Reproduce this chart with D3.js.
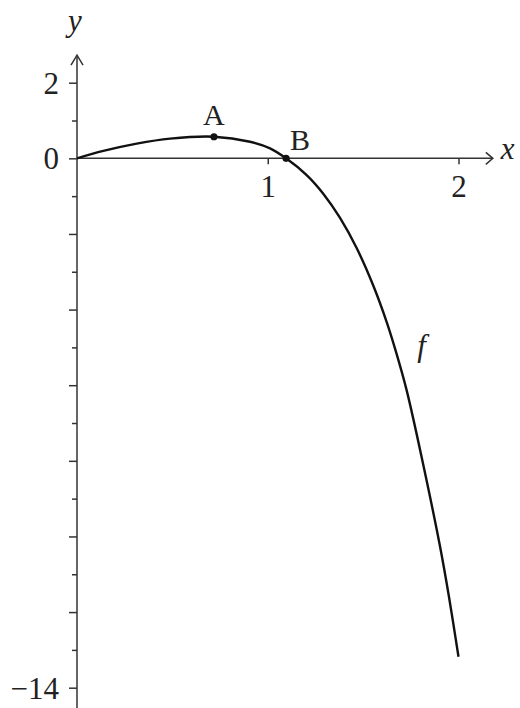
<!DOCTYPE html>
<html>
<head>
<meta charset="utf-8">
<script src="https://cdn.jsdelivr.net/npm/d3@7"></script>
<style>
  html, body { margin: 0; padding: 0; background: #fff; }
  svg { display: block; }
  text { font-family: "Liberation Serif", "Times New Roman", serif; fill: #222; }
</style>
</head>
<body>
<svg id="chart" width="520" height="708"></svg>
<script>
// ---- data ----
const curveX = [0, 0.138, 0.313, 0.488, 0.718, 0.907, 1.012, 1.096, 1.204, 1.291, 1.379, 1.466, 1.553, 1.624, 1.672, 1.728, 1.815, 1.903, 1.950, 2.0];
const curveY = [0, 0.196, 0.389, 0.521, 0.571, 0.439, 0.264, 0, -0.444, -0.936, -1.576, -2.372, -3.363, -4.337, -5.112, -6.131, -8.098, -10.261, -11.594, -13.18];
const pointNames = ["A", "B"];
const pointX = [0.718, 1.096];
const pointY = [0.571, 0];
const xTickValues = [1, 2];
const yMajorTicks = [2, 0, -2, -4, -6, -8, -10, -12, -14];
const yMinorTicks = [1, -1, -3, -5, -7, -9, -11, -13];
const yLabelled = [2, 0, -14];
const xDomain = [0, 2];
const yDomain = [-14, 2];
const axisExtentX = [0, 2.18];
const axisExtentY = [-14.6, 2.73];
const curveName = "f";
const curveLabelAt = [1.807, -5.24];

// ---- drawing ----
const svg = d3.select("#chart");
const x = d3.scaleLinear().domain(xDomain).range([77, 458.5]);
const y = d3.scaleLinear().domain(yDomain).range([687.7, 82.7]);
const axisColor = "#333";
const fs = 31;

// y ticks (major/minor) through d3 axes
const yMajor = d3.axisLeft(y).tickValues(yMajorTicks).tickSize(8).tickPadding(10)
  .tickFormat(d => yLabelled.includes(d) ? (d < 0 ? "\u2212" + Math.abs(d) : String(d)) : "");
const yMinor = d3.axisLeft(y).tickValues(yMinorTicks).tickSize(5).tickFormat("");
const gYM = svg.append("g").attr("transform", `translate(${x(0)},0)`).call(yMajor);
const gYm = svg.append("g").attr("transform", `translate(${x(0)},0)`).call(yMinor);
[gYM, gYm].forEach(g => {
  g.select(".domain").remove();
  g.selectAll("line").attr("stroke", axisColor).attr("stroke-width", 1.5);
});
gYM.selectAll("text").attr("font-size", fs).attr("font-family", "Liberation Serif")
  .attr("fill", "#222").attr("dy", "0.34em");

// x ticks
const xAx = d3.axisBottom(x).tickValues(xTickValues).tickSize(6).tickPadding(9)
  .tickFormat(d3.format("d"));
const gX = svg.append("g").attr("transform", `translate(0,${y(0)})`).call(xAx);
gX.select(".domain").remove();
gX.selectAll("line").attr("stroke", axisColor).attr("stroke-width", 1.5);
gX.selectAll("text").attr("font-size", fs).attr("font-family", "Liberation Serif").attr("fill", "#222").attr("dy", "0.75em");

// axis lines with open arrowheads
svg.append("line").attr("x1", x(axisExtentX[0])).attr("x2", x(axisExtentX[1]))
  .attr("y1", y(0)).attr("y2", y(0)).attr("stroke", axisColor).attr("stroke-width", 1.5);
svg.append("line").attr("x1", x(0)).attr("x2", x(0))
  .attr("y1", y(axisExtentY[0])).attr("y2", y(axisExtentY[1])).attr("stroke", axisColor).attr("stroke-width", 1.5);
const tipX = [x(axisExtentX[1]), y(0)];
svg.append("path").attr("d", `M${tipX[0]-7},${tipX[1]-6}L${tipX[0]},${tipX[1]}L${tipX[0]-7},${tipX[1]+6}`)
  .attr("fill", "none").attr("stroke", axisColor).attr("stroke-width", 1.5);
const tipY = [x(0), y(axisExtentY[1])];
svg.append("path").attr("d", `M${tipY[0]-6},${tipY[1]+10}L${tipY[0]},${tipY[1]}L${tipY[0]+6},${tipY[1]+10}`)
  .attr("fill", "none").attr("stroke", axisColor).attr("stroke-width", 1.5);

// axis names
svg.append("text").attr("x", x(axisExtentX[1]) + 8).attr("y", y(0) + 1)
  .attr("font-size", fs).attr("font-style", "italic").text("x");
svg.append("text").attr("x", x(0) - 2).attr("y", 31).attr("text-anchor", "middle")
  .attr("font-size", fs).attr("font-style", "italic").text("y");

// curve
const pts = curveX.map((v, i) => [v, curveY[i]]);
const line = d3.line().x(d => x(d[0])).y(d => y(d[1])).curve(d3.curveCatmullRom.alpha(0.5));
svg.append("path").datum(pts).attr("d", line)
  .attr("fill", "none").attr("stroke", "#111").attr("stroke-width", 2.4);

// points A and B
svg.selectAll("circle.pt").data(pointNames).enter().append("circle").attr("class", "pt")
  .attr("cx", (d, i) => x(pointX[i])).attr("cy", (d, i) => y(pointY[i])).attr("r", 3.6).attr("fill", "#111");
svg.append("text").attr("x", x(pointX[0])).attr("y", y(pointY[0]) - 12).attr("text-anchor", "middle")
  .attr("font-size", fs - 1).text(pointNames[0]);
svg.append("text").attr("x", x(pointX[1]) + 4).attr("y", y(pointY[1]) - 8).attr("text-anchor", "start")
  .attr("font-size", fs - 1).text(pointNames[1]);

// curve name
svg.append("text").attr("x", x(curveLabelAt[0])).attr("y", y(curveLabelAt[1]))
  .attr("text-anchor", "middle").attr("font-size", fs).attr("font-style", "italic").text(curveName);
</script>
</body>
</html>
